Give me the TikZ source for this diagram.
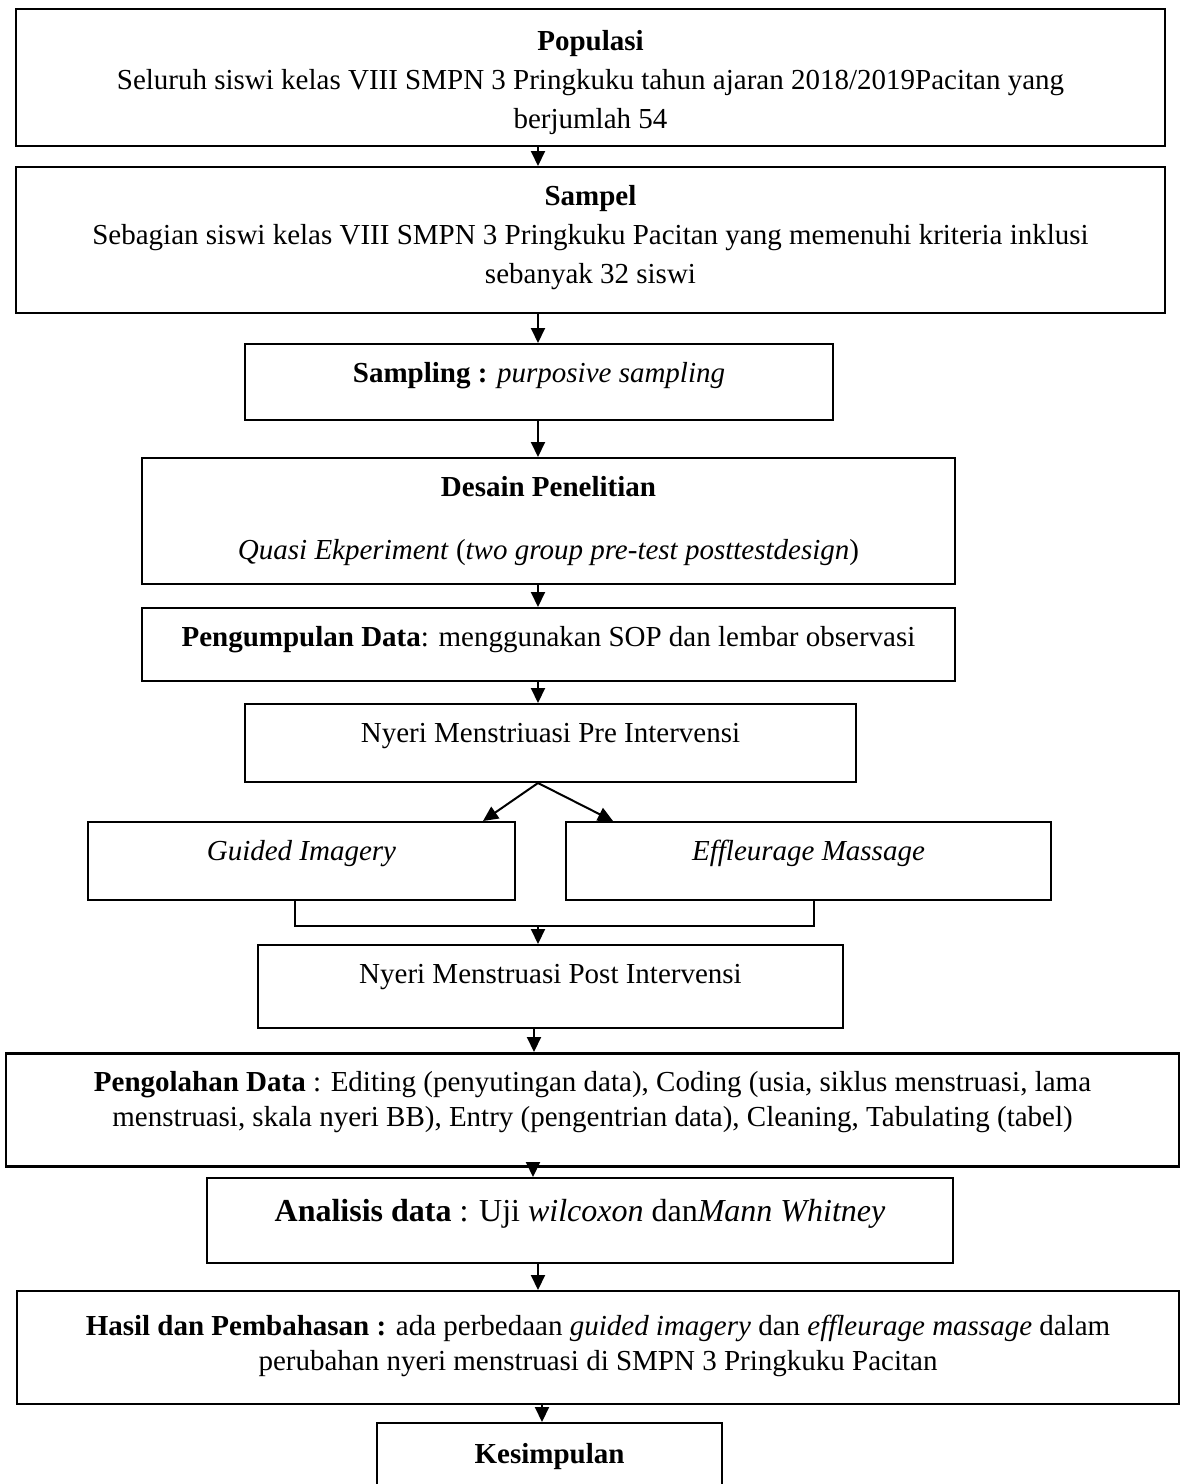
\documentclass[tikz,border=0pt]{standalone}
\usepackage{fontspec}
\setmainfont{Liberation Serif}
\usetikzlibrary{arrows.meta}

\begin{document}
\begin{tikzpicture}[x = 1pt, y = -1pt,
    box/.style = {draw, line width=2pt, inner sep=0pt, align=flush center, anchor=north, text height=38pt, font=\fontsize{29}{39}\selectfont},
    arr/.style = {line width=2pt, -{Triangle[length=15pt,width=14pt]}},
    ln/.style = {line width=2pt}]
    \useasboundingbox (0,0) rectangle (1182,1484);
    \node[box, text width=1149pt, text height=41pt, text depth=96pt] (pop) at (590.5,8) {\textbf{Populasi}\\Seluruh siswi kelas VIII SMPN 3 Pringkuku tahun ajaran 2018/2019Pacitan yang\\berjumlah 54};
    \node[box, text width=1149pt, text depth=108pt] (sam) at (590.5,166) {\textbf{Sampel}\\Sebagian siswi kelas VIII SMPN 3 Pringkuku Pacitan yang memenuhi kriteria inklusi\\sebanyak 32 siswi};
    \node[box, text width=588pt, text depth=38pt] (smp) at (539,343) {\textbf{Sampling :} \textit{purposive sampling}};
    \node[box, text width=813pt, text depth=88pt] (des) at (548.5,457) {\textbf{Desain Penelitian}\\[24pt]\textit{Quasi Ekperiment} (\textit{two group pre-test posttestdesign})};
    \node[box, text width=813pt, text depth=35pt] (pgd) at (548.5,607) {\textbf{Pengumpulan Data}: menggunakan SOP dan lembar observasi};
    \node[box, text width=611pt, text depth=40pt] (pre) at (550.5,703) {Nyeri Menstriuasi Pre Intervensi};
    \node[box, text width=427pt, text depth=40pt] (gi) at (301.5,821) {\textit{Guided Imagery}};
    \node[box, text width=485pt, text depth=40pt] (em) at (808.5,821) {\textit{Effleurage Massage}};
    \node[box, text width=585pt, text depth=45pt] (post) at (550.5,944) {Nyeri Menstruasi Post Intervensi};
    \node[box, line width=2.6pt, text width=1173pt, text depth=75pt, font=\fontsize{29}{35}\selectfont] (olah) at (592.5,1052) {\textbf{Pengolahan Data} : Editing (penyutingan data), Coding (usia, siklus menstruasi, lama\\menstruasi, skala nyeri BB), Entry (pengentrian data), Cleaning, Tabulating (tabel)};
    \node[box, text width=746pt, text height=43pt, text depth=42pt, font=\fontsize{32}{39}\selectfont] (ana) at (580,1177) {\textbf{Analisis data} : Uji \textit{wilcoxon} dan\textit{Mann Whitney}};
    \node[box, line width=2.4pt, text width=1162pt, text height=44pt, text depth=69pt, font=\fontsize{29}{35}\selectfont] (hasil) at (598,1290) {\textbf{Hasil dan Pembahasan :} ada perbedaan \textit{guided imagery} dan \textit{effleurage massage} dalam\\perubahan nyeri menstruasi di SMPN 3 Pringkuku Pacitan};
    \node[box, text width=345pt, text height=40pt, text depth=30pt] (kes) at (549.5,1422) {\textbf{Kesimpulan}};

    \coordinate (ax) at (538,0);
    \coordinate (tl) at (483,0);
    \coordinate (tr) at (613,0);
    \coordinate (gl) at (295,926);
    \coordinate (gm) at (538,926);
    \coordinate (gr) at (814,926);

    \draw[arr] (pop.south -| ax) -- (sam.north -| ax);
    \draw[arr] (sam.south -| ax) -- (smp.north -| ax);
    \draw[arr] (smp.south -| ax) -- (des.north -| ax);
    \draw[arr] (des.south -| ax) -- (pgd.north -| ax);
    \draw[arr] (pgd.south -| ax) -- (pre.north -| ax);
    \draw[arr] (pre.south -| ax) -- (gi.north -| tl);
    \draw[arr] (pre.south -| ax) -- (em.north -| tr);
    \draw[ln] (gi.south -| gl) -- (gl) -- (gr) -- (em.south -| gr);
    \draw[arr] (gm) -- (post.north -| gm);
    \draw[arr] ([xshift=-4pt]post.south -| ax) -- ([xshift=-4pt]olah.north -| ax);
    \draw[arr] ([xshift=-5pt]olah.south -| ax) -- ([xshift=-5pt]ana.north -| ax);
    \draw[arr] (ana.south -| ax) -- (hasil.north -| ax);
    \draw[arr] ([xshift=4pt]hasil.south -| ax) -- ([xshift=4pt]kes.north -| ax);
\end{tikzpicture}
\end{document}
